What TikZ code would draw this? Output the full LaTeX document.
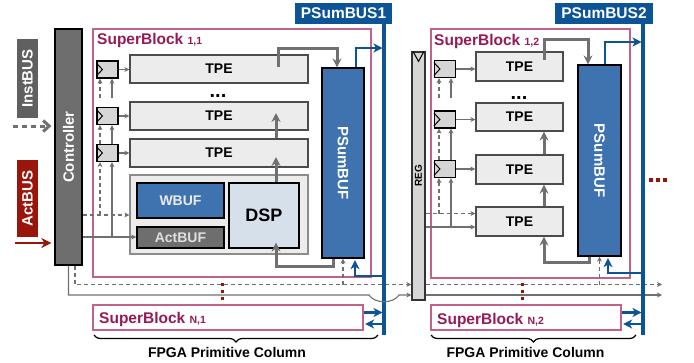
\documentclass[tikz,border=0pt]{standalone}
\usepackage{fontspec}
\setmainfont{Liberation Sans}
\usepackage{graphicx}
\usetikzlibrary{arrows.meta,decorations.pathreplacing}

\definecolor{sbline}{RGB}{192,98,138}
\definecolor{sbtext}{RGB}{150,26,88}
\definecolor{busblue}{RGB}{12,84,150}
\definecolor{bufblue}{RGB}{62,115,176}
\definecolor{ctrlgray}{RGB}{110,110,110}
\definecolor{instgray}{RGB}{96,96,96}
\definecolor{arrgray}{RGB}{112,112,112}
\definecolor{actred}{RGB}{155,22,10}
\definecolor{tpefill}{RGB}{236,236,236}
\definecolor{regfill}{RGB}{214,214,214}
\definecolor{dspfill}{RGB}{214,224,234}
\definecolor{dotred}{RGB}{150,20,10}

\begin{document}
\begin{tikzpicture}[x=1pt,y=-1pt,
 box/.style={draw,line width=1.2pt,inner sep=0pt},
 tag/.style={inner sep=0pt,text=white,font=\bfseries\fontsize{15}{15}\selectfont},
 tpe/.style={box,draw=black!70,fill=tpefill,minimum height=28pt,font=\bfseries\fontsize{14}{14}\selectfont},
 reg/.style={box,fill=regfill,minimum width=21pt,minimum height=17pt},
 sb/.style={draw=sbline,line width=1.2pt,inner sep=0pt},
 sbttl/.style={anchor=base west,inner sep=0pt,text=sbtext,font=\bfseries\fontsize{15.5}{15.5}\selectfont},
 buf/.style={box,fill=bufblue,text=white,font=\bfseries\fontsize{15}{15}\selectfont},
 buslbl/.style={fill=busblue,text=white,inner sep=0pt,minimum height=21pt,font=\bfseries\fontsize{15.5}{15.5}\selectfont},
 bus/.style={draw=busblue,line width=4.5pt},
 busarr/.style={draw=busblue,line width=2.5pt,shorten >=1.5pt,-{Stealth[length=9pt,width=9pt,inset=2.5pt]}},
 garr/.style={draw=arrgray,line width=1.1pt,-{Stealth[length=5pt,width=5pt,inset=1.5pt]}},
 dsh/.style={dash pattern=on 4pt off 3pt},
 thk/.style={draw=arrgray,line width=3pt,-{Stealth[length=9pt,width=9pt,inset=3pt]}},
 reddot/.style={draw=dotred,line width=3pt,dash pattern=on 3pt off 4pt},
 brc/.style={decorate,decoration={brace,mirror,amplitude=7pt},line width=1.2pt},
 colttl/.style={font=\bfseries\fontsize{14}{14}\selectfont},
 dots/.style={anchor=base,inner sep=0pt,font=\bfseries\fontsize{20}{20}\selectfont}
]
 \useasboundingbox (0,0) rectangle (694,362);

 % route points
 \coordinate (instin) at (13,126);
 \coordinate (actin) at (15,243);
 \coordinate (busAtop) at (384,24);
 \coordinate (busAbot) at (384,335);
 \coordinate (busBtop) at (643,24);
 \coordinate (busBbot) at (643,335);
 \coordinate (wlA) at (0,215);
 \coordinate (alA) at (0,237);
 \coordinate (wlB) at (0,213.5);
 \coordinate (alB) at (0,227);
 \coordinate (gap) at (0,98);
 \coordinate (vdA) at (100,0);
 \coordinate (vsA) at (112,0);
 \coordinate (vdB) at (439,0);
 \coordinate (vsB) at (451,0);
 \coordinate (dline) at (0,284.5);
 \coordinate (sline) at (0,295);
 \coordinate (hopL) at (369,295);
 \coordinate (hopR) at (399,295);
 \coordinate (dendB) at (662,284.5);
 \coordinate (sendB) at (662,295);
 \coordinate (upA) at (0,48);
 \coordinate (lowA) at (0,276);
 \coordinate (upB) at (0,42);
 \coordinate (lowB) at (0,273);
 \coordinate (outN) at (0,312.5);
 \coordinate (inN) at (0,324);

 % super blocks
 \node[sb,minimum width=278pt,minimum height=248pt] (sb11) at (232,153) {};
 \node[sb,minimum width=199pt,minimum height=249pt] (sb12) at (530.5,153.5) {};
 \node[sb,minimum width=270pt,minimum height=25pt] (sbN1) at (228,317.5) {};
 \node[sb,minimum width=190pt,minimum height=25pt] (sbN2) at (526,317.5) {};
 \node[sbttl] (ttl11) at (97,44) {SuperBlock {\fontsize{10.5}{10.5}\selectfont 1,1}};
 \node[sbttl] (ttl12) at (434,45) {SuperBlock {\fontsize{10.5}{10.5}\selectfont 1,2}};
 \node[sbttl] (ttlN1) at (99,323) {SuperBlock {\fontsize{10.5}{10.5}\selectfont N,1}};
 \node[sbttl] (ttlN2) at (437,324) {SuperBlock {\fontsize{10.5}{10.5}\selectfont N,2}};

 % inputs and controller
 \node[tag,fill=instgray,minimum width=21pt,minimum height=79pt] (instbus) at (27.5,78.5) {\rotatebox{90}{InstBUS}};
 \node[tag,fill=actred,minimum width=21pt,minimum height=77pt] (actbus) at (27.5,198.5) {\rotatebox{90}{ActBUS}};
 \node[box,fill=ctrlgray,text=white,font=\bfseries\fontsize{15}{15}\selectfont,minimum width=27pt,minimum height=236pt] (ctrl) at (68.5,147) {\rotatebox{90}{Controller}};
 \draw[draw=arrgray,line width=3pt,dash pattern=on 5pt off 4pt,shorten >=3pt,-{Straight Barb[length=6pt,width=11pt]}] (instin) -- (ctrl.west |- instin);
 \draw[draw=actred,line width=2.5pt,shorten >=3pt,-{Stealth[length=10pt,width=10pt,inset=3pt]}] (actin) -- (ctrl.west |- actin);

 % column 1
 \node[reg] (regA1) at (107.5,69.5) {};
 \node[reg] (regA2) at (107.5,116) {};
 \node[reg] (regA3) at (107.5,153) {};
 \node[tpe,minimum width=178pt] (tpeA1) at (219,69) {TPE};
 \node[tpe,minimum width=178pt] (tpeA2) at (219,116) {TPE};
 \node[tpe,minimum width=178pt] (tpeA3) at (219,153) {TPE};
 \node[dots] (dotsA) at (218,97) {...};
 \node[box,draw=black!45,fill=tpefill,minimum width=178pt,minimum height=79pt] (dspbox) at (219,214.5) {};
 \node[buf,minimum width=87pt,minimum height=35pt,font=\bfseries\fontsize{14}{14}\selectfont,text=white!92!black] (wbuf) at (180.5,200.5) {WBUF};
 \node[box,fill=ctrlgray,minimum width=87pt,minimum height=21pt,text=white!88!black,font=\bfseries\fontsize{14}{14}\selectfont] (actbuf) at (180.5,237.5) {ActBUF};
 \node[box,fill=dspfill,minimum width=70pt,minimum height=65pt,font=\bfseries\fontsize{18}{18}\selectfont] (dsp) at (264,215.5) {DSP};
 \node[buf,minimum width=42pt,minimum height=190pt] (psbufA) at (343,163) {\rotatebox{-90}{PSumBUF}};

 % column 2
 \node[box,fill=regfill,draw=black!80,minimum width=13pt,minimum height=248pt,font=\bfseries\fontsize{10}{10}\selectfont] (regcol) at (418.5,176) {\rotatebox{90}{REG}};
 \node[reg] (regB1) at (445,69) {};
 \node[reg] (regB2) at (445,119.5) {};
 \node[reg] (regB3) at (445,169) {};
 \node[tpe,minimum width=87pt,minimum height=29pt] (tpeB1) at (519.5,66.5) {TPE};
 \node[tpe,minimum width=87pt] (tpeB2) at (519.5,117) {TPE};
 \node[tpe,minimum width=87pt,minimum height=29pt] (tpeB3) at (519.5,169.5) {TPE};
 \node[tpe,minimum width=87pt,minimum height=29pt] (tpeB4) at (519.5,221.5) {TPE};
 \node[dots] (dotsB) at (519,99) {...};
 \node[buf,minimum width=43pt,minimum height=191pt] (psbufB) at (599.5,160.5) {\rotatebox{-90}{PSumBUF}};

 % clock marks
 \foreach \r in {regA1,regA2,regA3,regB1,regB2,regB3}
  \draw[line width=1pt] ([yshift=6.5pt]\r.west) -- ++(6,6.5) -- ++(-6,6.5);
 \draw[line width=1pt] ([xshift=-5.5pt]regcol.north) -- ++(5.5,10) -- ++(5.5,-10);

 % register to TPE
 \foreach \r/\t in {regA1/tpeA1,regA2/tpeA2,regA3/tpeA3,regB1/tpeB1,regB2/tpeB2,regB3/tpeB3}
  \draw[garr] (\r.east) -- (\r.east -| \t.west);

 % control lines, column 1
 \draw[garr,dsh] (ctrl.east |- wlA) -- (dspbox.west |- wlA);
 \draw[garr] (ctrl.east |- alA) -- (actbuf.west |- alA);
 \draw[garr,dsh] (vdA |- wlA) -- (vdA |- regA3.south);
 \draw[garr] (vsA |- alA) -- (vsA |- regA3.south);
 \draw[garr,dsh] (vdA |- regA3.north) -- (vdA |- regA2.south);
 \draw[garr] (vsA |- regA3.north) -- (vsA |- regA2.south);
 \draw[garr,dsh] (vdA |- gap) -- (vdA |- regA1.south);
 \draw[garr] (vsA |- gap) -- (vsA |- regA1.south);

 % control lines, column 2
 \draw[garr,dsh] (regcol.east |- wlB) -- (tpeB4.west |- wlB);
 \draw[garr] (regcol.east |- alB) -- (tpeB4.west |- alB);
 \draw[garr,dsh] (vdB |- wlB) -- (vdB |- regB3.south);
 \draw[garr] (vsB |- alB) -- (vsB |- regB3.south);
 \draw[garr,dsh] (vdB |- regB3.north) -- (vdB |- regB2.south);
 \draw[garr] (vsB |- regB3.north) -- (vsB |- regB2.south);
 \draw[garr,dsh] (vdB |- gap) -- (vdB |- regB1.south);
 \draw[garr] (vsB |- gap) -- (vsB |- regB1.south);

 % lines under the blocks
 \draw[garr,dsh] ([xshift=6.5pt]ctrl.south) |- (regcol.west |- dline);
 \draw[garr,dsh] (psbufA.south |- dline) -- (psbufA.south);
 \draw[garr,dsh] (regcol.east |- dline) -- (dendB);
 \draw[garr,dsh] (psbufB.south |- dline) -- (psbufB.south);
 \draw[garr] (regcol.east |- sline) -- (sendB);

 % partial sums
 \draw[thk] ([xshift=59pt,yshift=2pt]tpeA1.center) -- ++(0,-19) -| ([xshift=-6pt]psbufA.north);
 \draw[thk] ([xshift=12pt]dsp.north) -- ([xshift=57pt,yshift=-4pt]tpeA3.center);
 \draw[thk] ([xshift=57pt]tpeA3.north) -- ([xshift=57pt,yshift=3pt]tpeA2.center);
 \draw[thk] ([xshift=-10pt]psbufA.south) -- ++(0,8) -| ([xshift=12pt,yshift=6pt]dsp.south);
 \draw[thk] ([xshift=24.5pt,yshift=6.5pt]tpeB1.center) -- ++(0,-21) -| ([xshift=-11.5pt]psbufB.north);
 \draw[thk] ([xshift=24.5pt]tpeB3.north) -- ([xshift=24.5pt]tpeB2.south);
 \draw[thk] ([xshift=24.5pt]tpeB4.north) -- ([xshift=24.5pt]tpeB3.south);
 \draw[thk] ([xshift=-10.5pt]psbufB.south) -- ++(0,6) -| ([xshift=24.5pt]tpeB4.south);

 % buses
 \draw[bus] (busAtop) -- (busAbot);
 \draw[bus] (busBtop) -- (busBbot);
 \node[buslbl,minimum width=97pt] (psbusA) at (343.5,13.5) {PSumBUS1};
 \node[buslbl,minimum width=98pt] (psbusB) at (604,13.5) {PSumBUS2};
 \draw[garr] (ctrl.south) |- (hopL) .. controls (375,304) and (393,304) .. (hopR) -- (regcol.west |- sline);

 \draw[busarr] ([xshift=13pt]psbufA.north) |- (busAtop |- upA);
 \draw[busarr] (busAtop |- lowA) -| ([xshift=12pt]psbufA.south);
 \draw[busarr] (sbN1.east |- outN) -- (busAbot |- outN);
 \draw[busarr] (busAbot |- inN) -- (sbN1.east |- inN);
 \draw[busarr] ([xshift=5.5pt]psbufB.north) |- (busBtop |- upB);
 \draw[busarr] (busBtop |- lowB) -| ([xshift=8.5pt]psbufB.south);
 \draw[busarr] (sbN2.east |- outN) -- (busBbot |- outN);
 \draw[busarr] (busBbot |- inN) -- (sbN2.east |- inN);

 % more rows and columns
 \coordinate (vdotA) at (222,283);
 \coordinate (vdotB) at (522,283);
 \coordinate (hdot) at (649,180);
 \draw[reddot] (vdotA) -- ++(0,17);
 \draw[reddot] (vdotB) -- ++(0,17);
 \draw[draw=dotred,line width=4pt,dash pattern=on 4pt off 3pt] (hdot) -- ++(18,0);

 % columns
 \coordinate (brA1) at (94,335);
 \coordinate (brA2) at (378,335);
 \coordinate (brB1) at (431,335);
 \coordinate (brB2) at (636,335);
 \draw[brc] (brA1) -- (brA2);
 \draw[brc] (brB1) -- (brB2);
 \node[colttl] (colA) at (227,352) {FPGA Primitive Column};
 \node[colttl] (colB) at (525.5,352) {FPGA Primitive Column};
\end{tikzpicture}
\end{document}
